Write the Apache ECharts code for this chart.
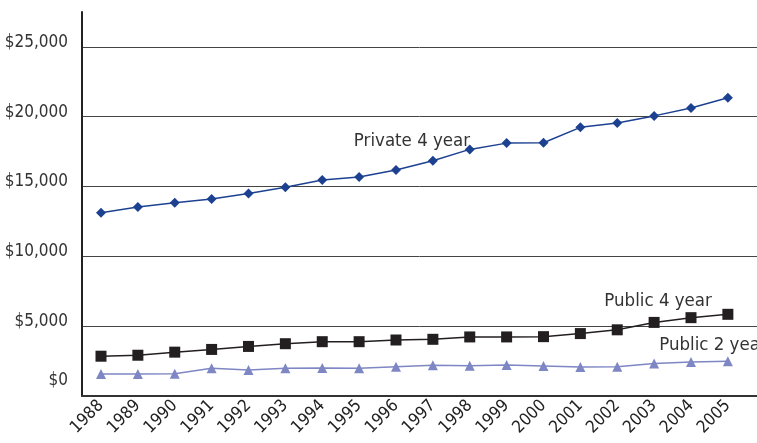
<!DOCTYPE html>
<html>
<head>
<meta charset="utf-8">
<script src="https://cdn.jsdelivr.net/npm/echarts@6/dist/echarts.min.js"></script>
<style>html,body{margin:0;padding:0;background:#fff}#c{width:757px;height:443px}</style>
</head>
<body>
<div id="c"></div>
<script>
var years = [1988,1989,1990,1991,1992,1993,1994,1995,1996,1997,1998,1999,2000,2001,2002,2003,2004,2005];
var private4 = [13120,13530,13840,14100,14510,14950,15470,15680,16180,16850,17660,18110,18140,19240,19550,20060,20620,21360];
var public4 = [2850,2920,3140,3335,3550,3745,3890,3890,4010,4060,4230,4230,4250,4470,4740,5270,5610,5850];
var public2 = [1570,1570,1590,1980,1860,1980,2010,1980,2100,2200,2175,2220,2150,2080,2100,2320,2440,2490];
var yTicks = [0,5000,10000,15000,20000,25000];

var FONT = '"DejaVu Sans Condensed","Liberation Sans Narrow",sans-serif';

function pairs(vals, labelIdx, labelText, offset) {
  return vals.map(function (v, i) {
    var d = { value: [years[i], v] };
    if (i === labelIdx) {
      d.label = { show: true, position: 'inside', formatter: labelText, offset: offset,
        fontFamily: FONT, fontSize: 18.5, color: '#333' };
    }
    return d;
  });
}

var chart = echarts.init(document.getElementById('c'));
chart.setOption({
  animation: false,
  grid: { left: 82, right: 0, top: 12, bottom: 47, containLabel: false, outerBoundsMode: 'none' },
  xAxis: {
    type: 'value', min: 1987.485, max: 2005.79,
    axisLine: { show: true, onZero: false, lineStyle: { color: '#333', width: 2 } },
    axisTick: { show: false },
    splitLine: { show: false },
    axisLabel: {
      customValues: years, rotate: 45, margin: 7,
      fontFamily: FONT, fontSize: 17, color: '#222',
      formatter: function (v) { return String(v); }
    }
  },
  yAxis: {
    type: 'value', min: 0, max: 27500, interval: 2500,
    axisLine: { show: true, lineStyle: { color: '#222', width: 2 } },
    axisTick: { show: false },
    splitLine: { show: true, lineStyle: { color: ['#444', 'rgba(0,0,0,0)'], width: 1 } },
    axisLabel: {
      margin: 14, fontFamily: FONT, fontSize: 17, color: '#333',
      formatter: function (v) {
        if (yTicks.indexOf(v) < 0) return '';
        if (v === 0) return '{z|$0}';
        return '$' + v.toLocaleString('en-US');
      },
      padding: [0, 0, 9, 0],
      rich: { z: { fontFamily: FONT, fontSize: 17, color: '#333', padding: [0, 0, 22, 0] } }
    }
  },
  series: [
    {
      type: 'line', name: 'Private 4 year',
      data: pairs(private4, 8, 'Private 4 year', [16, -29]),
      symbol: 'diamond', symbolSize: 10,
      lineStyle: { color: '#1d4191', width: 1.5 },
      itemStyle: { color: '#1d4191' }
    },
    {
      type: 'line', name: 'Public 4 year',
      data: pairs(public4, 15, 'Public 4 year', [4, -21]),
      symbol: 'rect', symbolSize: 11,
      lineStyle: { color: '#231f20', width: 1.5 },
      itemStyle: { color: '#231f20' }
    },
    {
      type: 'line', name: 'Public 2 year',
      data: pairs(public2, 16, 'Public 2 year', [22, -17]),
      symbol: 'triangle', symbolSize: 10,
      lineStyle: { color: '#7e86c4', width: 1.5 },
      itemStyle: { color: '#7e86c4' }
    }
  ]
});
</script>
</body>
</html>
